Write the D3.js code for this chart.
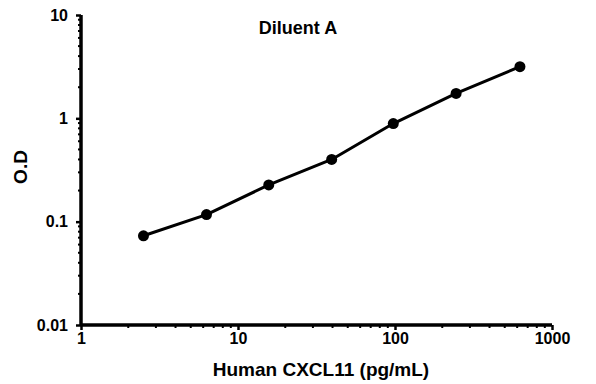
<!DOCTYPE html>
<html>
<head>
<meta charset="utf-8">
<script src="https://cdn.jsdelivr.net/npm/d3@7"></script>
<style>
  body { margin: 0; background: #fff; }
  text { font-family: "Liberation Sans", Arial, sans-serif; font-weight: bold; fill: #000; }
</style>
</head>
<body>
<div id="chart"></div>
<script>
const WIDTH = 596;
const HEIGHT = 384;
const margin = {top: 15, right: 44, bottom: 59, left: 81};

// data
const concentration = [2.5, 6.3, 15.7, 39.5, 97.5, 245, 625];
const odValues = [0.073, 0.117, 0.227, 0.40, 0.89, 1.74, 3.16];
const xTicks = [1, 10, 100, 1000];
const yTicks = [0.01, 0.1, 1, 10];

const w = WIDTH - margin.left - margin.right;
const h = HEIGHT - margin.top - margin.bottom;

const svg = d3.select('#chart')
    .append('svg')
        .attr('width', WIDTH)
        .attr('height', HEIGHT);

const g = svg.append('g')
    .attr('transform', `translate(${margin.left},${margin.top})`);

const x = d3.scaleLog().domain([1, 1000]).range([0, w]);
const y = d3.scaleLog().domain([0.01, 10]).range([h, 0]);

// minor ticks (2..9 of each decade)
const minorX = [];
const minorY = [];
[1, 10, 100].forEach(d => { for (let k = 2; k < 10; k++) minorX.push(d * k); });
[0.01, 0.1, 1].forEach(d => { for (let k = 2; k < 10; k++) minorY.push(d * k); });

g.append('g')
    .selectAll('line')
    .data(minorX)
    .join('line')
        .attr('x1', d => x(d)).attr('x2', d => x(d))
        .attr('y1', h).attr('y2', h + 3)
        .attr('stroke', '#000').attr('stroke-width', 2);

g.append('g')
    .selectAll('line')
    .data(minorY)
    .join('line')
        .attr('x1', 0).attr('x2', -3)
        .attr('y1', d => y(d)).attr('y2', d => y(d))
        .attr('stroke', '#000').attr('stroke-width', 2);

const xAxis = d3.axisBottom(x).tickValues(xTicks).tickFormat(d3.format('d')).tickSize(5).tickPadding(3);
const yAxis = d3.axisLeft(y).tickValues(yTicks).tickFormat(d => String(d)).tickSize(5).tickPadding(8);

const gx = g.append('g').attr('transform', `translate(0,${h})`).call(xAxis);
const gy = g.append('g').call(yAxis);

[gx, gy].forEach(a => {
    a.select('.domain').attr('stroke', '#000').attr('stroke-width', 3.5);
    a.selectAll('.tick line').attr('stroke', '#000').attr('stroke-width', 2.5);
    a.selectAll('.tick text').style('font-size', '16px').attr('fill', '#000');
});
gx.select('.domain').attr('d', `M0,0H${w}`);
gy.select('.domain').attr('d', `M0,${h}V0`);

const pts = concentration.map((c, i) => ({c, v: odValues[i]}));

g.append('path')
    .datum(pts)
    .attr('fill', 'none')
    .attr('stroke', '#000')
    .attr('stroke-width', 3)
    .attr('stroke-linejoin', 'round')
    .attr('d', d3.line().x(d => x(d.c)).y(d => y(d.v)));

g.selectAll('.dot')
    .data(pts)
    .join('circle')
        .attr('class', 'dot')
        .attr('cx', d => x(d.c))
        .attr('cy', d => y(d.v))
        .attr('r', 5.5)
        .attr('fill', '#000');

svg.append('text')
    .attr('x', 298).attr('y', 34)
    .attr('text-anchor', 'middle')
    .style('font-size', '18px')
    .text('Diluent A');

svg.append('text')
    .attr('x', 321).attr('y', 376)
    .attr('text-anchor', 'middle')
    .style('font-size', '19px')
    .text('Human CXCL11 (pg/mL)');

svg.append('text')
    .attr('transform', `translate(27,167) rotate(-90)`)
    .attr('text-anchor', 'middle')
    .style('font-size', '19px')
    .text('O.D');
</script>
</body>
</html>
